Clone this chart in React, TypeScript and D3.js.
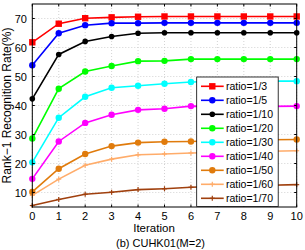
import React from "react";
import * as d3 from "d3";

const iterations = [0, 1, 2, 3, 4, 5, 6, 7, 8, 9, 10];
const seriesNames = ["ratio=1/3", "ratio=1/5", "ratio=1/10", "ratio=1/20", "ratio=1/30", "ratio=1/40", "ratio=1/50", "ratio=1/60", "ratio=1/70"];
const r3 = [61.8, 68.2, 70.1, 70.4, 70.6, 70.7, 70.7, 70.7, 70.7, 70.7, 70.7];
const r5 = [53.9, 64.9, 67.7, 68.4, 68.4, 68.5, 68.5, 68.5, 68.5, 68.5, 68.5];
const r10 = [42.3, 57.6, 62.1, 63.8, 64.9, 65.1, 65.1, 65.1, 65.1, 65.1, 65.1];
const r20 = [28.6, 45.8, 51.7, 53.6, 55.3, 55.4, 56.0, 56.0, 56.0, 56.0, 56.0];
const r30 = [20.4, 35.8, 43.0, 46.1, 46.8, 47.5, 48.1, 48.3, 48.4, 48.4, 48.4];
const r40 = [14.7, 27.6, 34.0, 36.8, 38.5, 38.9, 39.8, 39.7, 39.7, 39.7, 39.8];
const r50 = [10.2, 18.2, 23.3, 26.0, 27.2, 27.5, 27.6, 27.9, 28.1, 28.2, 28.3];
const r60 = [9.0, 14.6, 19.4, 21.5, 23.0, 23.3, 23.6, 23.8, 24.0, 24.2, 24.4];
const r70 = [5.5, 7.6, 9.4, 10.1, 11.0, 11.3, 11.8, 12.1, 12.3, 12.5, 12.7];
const seriesValues = [r3, r5, r10, r20, r30, r40, r50, r60, r70];
const colors = ["#ff0000", "#0000ff", "#000000", "#00ff00", "#00ffff", "#ff00ff", "#e07b0c", "#ffac6a", "#a0400e"];
const markers = ["square", "circle", "circleSmall", "circle", "circle", "circle", "circle", "plus", "plus"];
const xTicks = [0, 1, 2, 3, 4, 5, 6, 7, 8, 9, 10];
const yTicks = [10, 20, 30, 40, 50, 60, 70];

const FONT = "'Liberation Sans', Arial, sans-serif";

function Marker({ kind, x, y, color }: { kind: string; x: number; y: number; color: string }) {
  if (kind === "square") return <rect x={x - 3.2} y={y - 3.2} width={6.4} height={6.4} fill={color} />;
  if (kind === "circle") return <circle cx={x} cy={y} r={3.2} fill={color} />;
  if (kind === "circleSmall") return <circle cx={x} cy={y} r={2.8} fill={color} />;
  return (
    <g stroke={color} strokeWidth={1.2}>
      <line x1={x - 2.5} x2={x + 2.5} y1={y} y2={y} />
      <line x1={x} x2={x} y1={y - 2.5} y2={y + 2.5} />
    </g>
  );
}

export default function App() {
  const W = 305, H = 250;
  const x = d3.scaleLinear().domain([0, 10]).range([32.3, 296.7]);
  const y = d3.scaleLinear().domain([5, 75]).range([207, 4]);
  const line = d3.line<number>().x((_, i) => x(iterations[i])).y((d) => y(d));
  const [x0, x1] = x.range();
  const [yb, yt] = y.range();
  const legX = 196.7, legY = 77, legW = 81.5, legH = 129.5;
  return (
    <svg width={W} height={H} style={{ position: "absolute", left: 0, top: 0 }} fontFamily={FONT}>
      <rect width={W} height={H} fill="#fff" />
      {xTicks.map((t) => (
        <line key={"gx" + t} x1={x(t)} x2={x(t)} y1={yb} y2={yt} stroke="#c8c8c8" strokeWidth={0.8} strokeDasharray="1,2" />
      ))}
      {yTicks.map((t) => (
        <line key={"gy" + t} x1={x0} x2={x1} y1={y(t)} y2={y(t)} stroke="#c8c8c8" strokeWidth={0.8} strokeDasharray="1,2" />
      ))}
      {seriesValues.map((vals, si) => (
        <g key={si}>
          <path d={line(vals) || ""} fill="none" stroke={colors[si]} strokeWidth={1.6} />
          {vals.map((v, i) => (
            <Marker key={i} kind={markers[si]} x={x(iterations[i])} y={y(v)} color={colors[si]} />
          ))}
        </g>
      ))}
      <rect x={x0} y={yt} width={x1 - x0} height={yb - yt} fill="none" stroke="#000" strokeWidth={1} />
      {xTicks.map((t) => (
        <g key={"tx" + t}>
          <line x1={x(t)} x2={x(t)} y1={yb} y2={yb - 2.5} stroke="#000" />
          <line x1={x(t)} x2={x(t)} y1={yt} y2={yt + 2.5} stroke="#000" />
          <text x={x(t)} y={219.5} fontSize={11} textAnchor="middle">{t}</text>
        </g>
      ))}
      {yTicks.map((t) => (
        <g key={"ty" + t}>
          <line x1={x0} x2={x0 + 2.5} y1={y(t)} y2={y(t)} stroke="#000" />
          <line x1={x1} x2={x1 - 2.5} y1={y(t)} y2={y(t)} stroke="#000" />
          <text x={27} y={y(t) + 4} fontSize={11} textAnchor="end">{t}</text>
        </g>
      ))}
      <text x={154} y={232} fontSize={11.5} textAnchor="middle">Iteration</text>
      <text x={160.5} y={246.5} fontSize={11} textAnchor="middle">(b) CUHK01(M=2)</text>
      <text transform={`translate(10.5,${(yb + yt) / 2}) rotate(-90)`} fontSize={12} textAnchor="middle">Rank−1 Recognition Rate(%)</text>
      <rect x={legX} y={legY} width={legW} height={legH} fill="#fff" stroke="#000" strokeWidth={0.8} />
      {seriesNames.map((name, i) => {
        const ly = 86.3 + i * 14;
        return (
          <g key={name}>
            <line x1={201} x2={223.7} y1={ly} y2={ly} stroke={colors[i]} strokeWidth={1.6} />
            <Marker kind={markers[i]} x={212.3} y={ly} color={colors[i]} />
            <text x={226} y={ly + 3.8} fontSize={10.5}>{name}</text>
          </g>
        );
      })}
    </svg>
  );
}
